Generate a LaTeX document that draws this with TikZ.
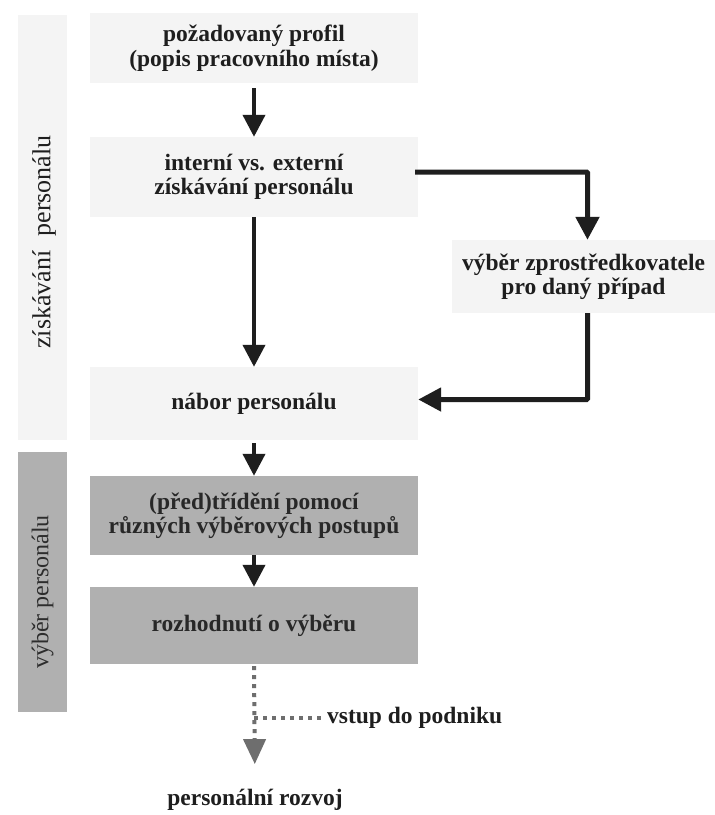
\documentclass[tikz,border=0pt]{standalone}
\usepackage{fontspec}
\setmainfont{Liberation Serif}
\usetikzlibrary{arrows.meta,calc}
\definecolor{boxgray}{RGB}{176,176,176}
\definecolor{faintgray}{RGB}{244,244,244}
\definecolor{inkdark}{RGB}{30,30,30}
\definecolor{dotgray}{RGB}{110,110,110}
\tikzset{
  txt/.style={font=\bfseries\fontsize{23.5}{24.5}\selectfont, align=center, text=inkdark, inner sep=0pt},
  faintbox/.style={txt, fill=faintgray, minimum width=328pt},
  graybox/.style={txt, fill=boxgray, minimum width=328pt, text={rgb,255:red,40;green,40;blue,40}},
  sidelabel/.style={font=\fontsize{24}{26}\selectfont, rotate=90, inner sep=0pt, text=inkdark},
  arr/.style={draw=inkdark, line width=4pt, -{Triangle[width=22pt,length=22pt]}},
  arrthick/.style={draw=inkdark, line width=5pt, -{Triangle[width=23pt,length=23pt]}, rounded corners=1pt},
  dotline/.style={draw=dotgray, line width=4pt, dash pattern=on 4pt off 5pt},
  dotarr/.style={dotline, -{Triangle[width=22pt,length=25pt,fill=dotgray]}},
}
\begin{document}
\begin{tikzpicture}[x=1pt,y=-1pt]
\useasboundingbox (0,0) rectangle (715,815);
\fill[white] (0,0) rectangle (715,815);
% faint side column for recruiting
\node[fill=faintgray, minimum width=49pt, minimum height=425pt, inner sep=0pt] (col1) at (42.5,227.5) {};
\node[sidelabel, font=\fontsize{26}{28}\selectfont] (lab1) at (44,242) {získávání\hspace{14pt}personálu};
% gray side bar for selection
\node[fill=boxgray, minimum width=49pt, minimum height=260pt, inner sep=0pt] (bar2) at (42.5,582) {};
\node[sidelabel, text={rgb,255:red,45;green,45;blue,45}] (lab2) at (bar2.center |- 0,592) {výběr personálu};
% boxes
\node[faintbox, minimum height=70pt] (b1) at (254,48) {požadovaný profil\\(popis pracovního místa)};
\node[faintbox, minimum height=80pt] (b2) at (254,177) {interní vs. externí\\získávání personálu};
\node[txt, fill=faintgray, minimum width=263pt, minimum height=73pt] (b3) at (583.5,276.5) {výběr zprostředkovatele\\pro daný případ};
\node[faintbox, minimum height=73pt] (b4) at (254,403.5) {nábor personálu};
\node[graybox, minimum height=79pt] (b5) at (254,515.5) {(před)třídění pomocí\\různých výběrových postupů};
\node[graybox, minimum height=77pt] (b6) at (254,625.5) {rozhodnutí o výběru};
\node[txt, anchor=center] (b7) at (255,800) {personální rozvoj};
\node[txt, anchor=west] (vstup) at (327,718) {vstup do podniku};
\coordinate (vs) at (254,718);
% connectors
\draw[arr] ([yshift=-5pt]b1.south) -- (b2.north);
\draw[arr] (b2.south) -- (b4.north);
\draw[arrthick] ([yshift=5pt,xshift=-3pt]b2.east) -| ([xshift=4pt]b3.north);
\draw[arrthick] ([xshift=4pt]b3.south) |- ([yshift=4pt]b4.east);
\draw[arr] ([yshift=-3pt]b4.south) -- (b5.north);
\draw[arr] (b5.south) -- (b6.north);
\draw[dotarr, shorten >=25pt] ([yshift=-2pt]b6.south) -- (b7.north);
\draw[dotline] (vs) -- ([xshift=-4pt]vstup.west);
\end{tikzpicture}
\end{document}
